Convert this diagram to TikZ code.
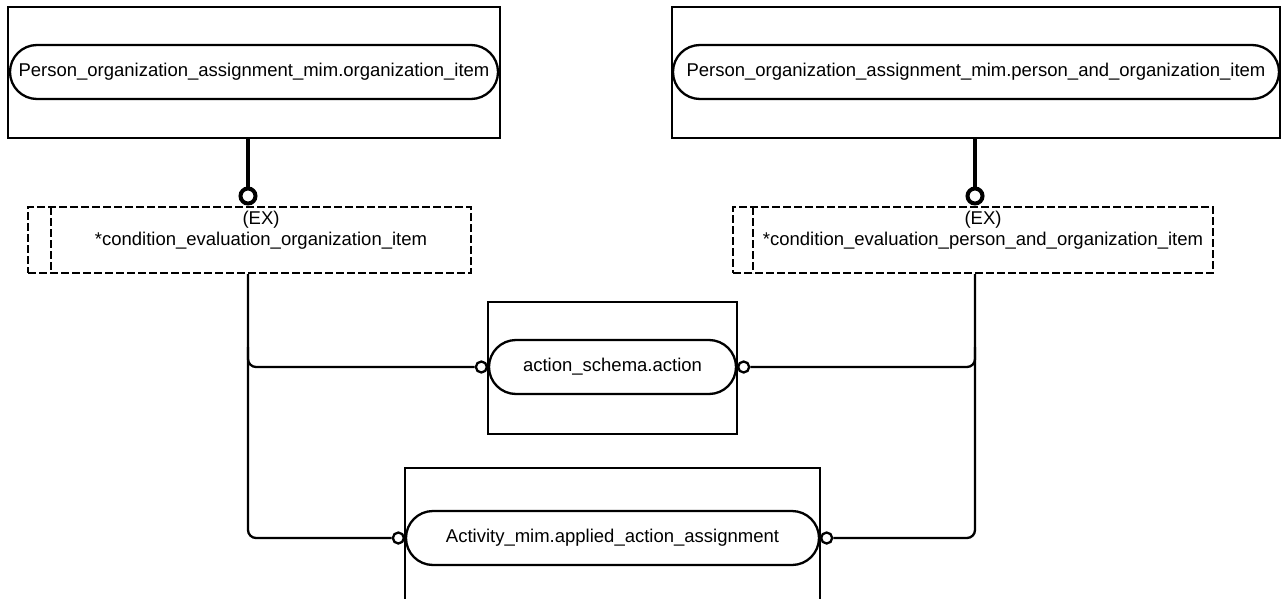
\documentclass[tikz,border=0pt]{standalone}
\usepackage{fontspec}
\setmainfont{Liberation Sans}
\usetikzlibrary{calc}
\begin{document}
\begin{tikzpicture}[x=1pt,y=-1pt,
  lbl/.style={font=\fontsize{18.5}{20.5}\selectfont},
  entbox/.style={draw,line width=2.3pt,inner sep=0pt},
  pill/.style={draw,line width=2.3pt,rounded corners=27pt,minimum height=54pt,inner sep=0pt,lbl},
  dbox/.style={draw,line width=2.3pt,dash pattern=on 8pt off 3pt,inner sep=0pt},
  dline/.style={line width=2.3pt,dash pattern=on 8pt off 3pt},
  bigcirc/.style={circle,draw,line width=4pt,minimum size=15pt,inner sep=0pt,fill=white},
  smallcirc/.style={circle,draw,line width=2.3pt,minimum size=11pt,inner sep=0pt,fill=white},
  thickconn/.style={line width=4.5pt},
  conn/.style={line width=2.3pt,rounded corners=8pt}]
\fill[white] (0,0) rectangle (1281,599);
\useasboundingbox (0,0) rectangle (1281,599);

% top entities
\node[entbox,minimum width=492pt,minimum height=131pt] (tlbox) at (254,72.5) {};
\node[pill,minimum width=488pt] (tl) at (254,72) {Person\_organization\_assignment\_mim.organization\_item};
\node[entbox,minimum width=608pt,minimum height=131pt] (trbox) at (976,72.5) {};
\node[pill,minimum width=606pt] (tr) at (976,72) {Person\_organization\_assignment\_mim.person\_and\_organization\_item};

% dashed select boxes
\node[dbox,minimum width=443pt,minimum height=66pt] (ld) at (249.5,240) {};
\draw[dline] (51,207) -- (51,273);
\node[lbl,align=center] (ldt) at (261,230) {(EX)\\*condition\_evaluation\_organization\_item};
\node[dbox,minimum width=480pt,minimum height=66pt] (rd) at (973,240) {};
\draw[dline] (753,207) -- (753,273);
\node[lbl,align=center] (rdt) at (983,230) {(EX)\\*condition\_evaluation\_person\_and\_organization\_item};

% middle entity
\node[entbox,minimum width=249pt,minimum height=132pt] (actbox) at (612.5,368) {};
\node[pill,minimum width=247pt] (act) at (612.5,367) {action\_schema.action};

% bottom entity
\node[entbox,minimum width=415pt,minimum height=152pt] (aaabox) at (612.5,544) {};
\node[pill,minimum width=413pt] (aaa) at (612.5,538) {Activity\_mim.applied\_action\_assignment};

% circles
\node[bigcirc] (bc1) at (248,196) {};
\node[bigcirc] (bc2) at (975,196) {};
\node[smallcirc] (c1) at ($(act.west)+(-6.5,0)$) {};
\node[smallcirc] (c2) at ($(act.east)+(6.5,0)$) {};
\node[smallcirc] (c3) at ($(aaa.west)+(-6.5,0)$) {};
\node[smallcirc] (c4) at ($(aaa.east)+(6.5,0)$) {};

% thick connectors
\draw[thickconn] (tlbox.south -| bc1) -- (bc1.north);
\draw[thickconn] (trbox.south -| bc2) -- (bc2.north);

% left connectors
\draw[conn] (ld.south -| bc1) |- (c3.west);
\draw[conn] ($(bc1 |- c1)+(0,-20)$) |- (c1.west);
% right connectors
\draw[conn] (rd.south -| bc2) |- (c4.east);
\draw[conn] ($(bc2 |- c2)+(0,-20)$) |- (c2.east);
\end{tikzpicture}
\end{document}
